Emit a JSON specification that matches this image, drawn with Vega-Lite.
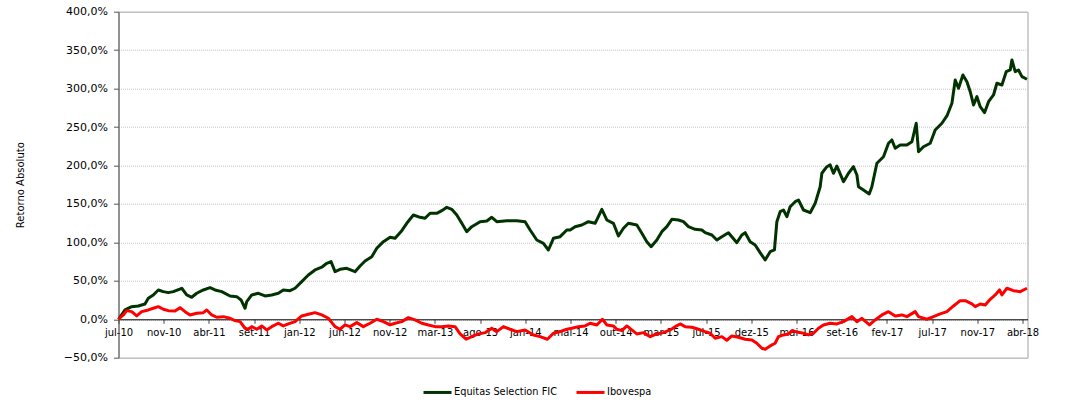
{
  "$schema": "https://vega.github.io/schema/vega-lite/v6.json",
  "autosize": "none",
  "padding": {"left": 118.5, "top": 11.7, "right": 50.5, "bottom": 42.3},
  "width": 909,
  "height": 346,
  "background": "white",
  "config": {
    "font": "DejaVu Sans",
    "view": {"stroke": "#a0a0a0", "strokeWidth": 1}
  },
  "datasets": {
    "equitas": [
      {"t":0,"r":0},{"t":0.144,"r":12.1},{"t":0.292,"r":16.4},{"t":0.438,"r":17.3},{"t":0.586,"r":19.9},{"t":0.659,"r":27.3},{"t":0.77,"r":31.6},{"t":0.881,"r":38.1},{"t":0.991,"r":35.9},{"t":1.102,"r":34.6},{"t":1.213,"r":35.9},{"t":1.399,"r":40.3},{"t":1.509,"r":31.6},{"t":1.62,"r":28.6},{"t":1.73,"r":33.8},{"t":1.877,"r":38.1},{"t":2.025,"r":41.1},{"t":2.135,"r":38.1},{"t":2.284,"r":35.9},{"t":2.467,"r":30.3},{"t":2.616,"r":29.4},{"t":2.711,"r":25.1},{"t":2.799,"r":14.3},{"t":2.837,"r":22.9},{"t":2.948,"r":31.6},{"t":3.094,"r":33.8},{"t":3.242,"r":30.3},{"t":3.39,"r":31.6},{"t":3.536,"r":33.8},{"t":3.647,"r":38.1},{"t":3.795,"r":37.2},{"t":3.906,"r":40.3},{"t":4.054,"r":48.9},{"t":4.2,"r":57.6},{"t":4.348,"r":64.1},{"t":4.497,"r":67.7},{"t":4.607,"r":72.8},{"t":4.702,"r":75.0},{"t":4.791,"r":61.9},{"t":4.901,"r":65.0},{"t":5.05,"r":66.3},{"t":5.233,"r":61.9},{"t":5.344,"r":69.3},{"t":5.455,"r":75.8},{"t":5.603,"r":81.4},{"t":5.714,"r":92.3},{"t":5.86,"r":100.9},{"t":6.008,"r":106.6},{"t":6.119,"r":105.3},{"t":6.267,"r":115.2},{"t":6.377,"r":124.8},{"t":6.524,"r":135.6},{"t":6.672,"r":132.6},{"t":6.782,"r":131.3},{"t":6.893,"r":137.8},{"t":7.041,"r":137.8},{"t":7.152,"r":141.2},{"t":7.263,"r":145.6},{"t":7.373,"r":143.0},{"t":7.484,"r":135.6},{"t":7.595,"r":124.8},{"t":7.705,"r":113.9},{"t":7.816,"r":120.4},{"t":8.0,"r":126.9},{"t":8.148,"r":127.8},{"t":8.258,"r":132.6},{"t":8.369,"r":126.9},{"t":8.59,"r":128.2},{"t":8.812,"r":128.2},{"t":8.995,"r":126.9},{"t":9.106,"r":116.1},{"t":9.254,"r":103.1},{"t":9.4,"r":98.8},{"t":9.511,"r":90.1},{"t":9.622,"r":105.3},{"t":9.77,"r":107.4},{"t":9.918,"r":116.1},{"t":9.991,"r":116.1},{"t":10.102,"r":120.4},{"t":10.25,"r":122.6},{"t":10.396,"r":126.9},{"t":10.544,"r":124.8},{"t":10.693,"r":143.0},{"t":10.803,"r":129.1},{"t":10.949,"r":124.8},{"t":11.06,"r":108.3},{"t":11.171,"r":118.3},{"t":11.281,"r":124.8},{"t":11.467,"r":122.6},{"t":11.578,"r":111.8},{"t":11.688,"r":100.9},{"t":11.784,"r":94.4},{"t":11.91,"r":103.1},{"t":12.02,"r":113.9},{"t":12.131,"r":120.4},{"t":12.242,"r":130.0},{"t":12.388,"r":129.1},{"t":12.498,"r":126.9},{"t":12.609,"r":120.4},{"t":12.757,"r":117.0},{"t":12.905,"r":116.1},{"t":12.979,"r":112.6},{"t":13.127,"r":109.6},{"t":13.237,"r":103.1},{"t":13.348,"r":107.4},{"t":13.494,"r":112.6},{"t":13.68,"r":99.6},{"t":13.79,"r":109.6},{"t":13.864,"r":112.6},{"t":13.974,"r":100.9},{"t":14.085,"r":96.6},{"t":14.195,"r":86.6},{"t":14.306,"r":77.1},{"t":14.417,"r":87.9},{"t":14.512,"r":90.1},{"t":14.565,"r":126.9},{"t":14.638,"r":139.9},{"t":14.711,"r":142.1},{"t":14.786,"r":133.4},{"t":14.859,"r":146.4},{"t":14.97,"r":152.9},{"t":15.043,"r":155.1},{"t":15.154,"r":142.1},{"t":15.302,"r":138.6},{"t":15.413,"r":150.8},{"t":15.523,"r":172.4},{"t":15.561,"r":189.9},{"t":15.671,"r":198.4},{"t":15.745,"r":200.7},{"t":15.817,"r":189.9},{"t":15.893,"r":199.3},{"t":16.039,"r":178.9},{"t":16.15,"r":189.9},{"t":16.26,"r":198.4},{"t":16.336,"r":187.6},{"t":16.371,"r":172.4},{"t":16.481,"r":168.1},{"t":16.608,"r":162.9},{"t":16.667,"r":172.4},{"t":16.778,"r":202.9},{"t":16.924,"r":211.4},{"t":17.035,"r":228.9},{"t":17.11,"r":233.2},{"t":17.183,"r":222.4},{"t":17.294,"r":226.7},{"t":17.442,"r":226.7},{"t":17.553,"r":230.9},{"t":17.648,"r":254.9},{"t":17.699,"r":217.9},{"t":17.809,"r":224.4},{"t":17.958,"r":228.9},{"t":18.068,"r":246.2},{"t":18.216,"r":254.9},{"t":18.327,"r":264.4},{"t":18.438,"r":280.9},{"t":18.511,"r":311.2},{"t":18.584,"r":300.4},{"t":18.681,"r":317.7},{"t":18.77,"r":309.0},{"t":18.843,"r":296.0},{"t":18.916,"r":278.7},{"t":18.991,"r":289.5},{"t":19.064,"r":276.5},{"t":19.159,"r":268.7},{"t":19.248,"r":283.0},{"t":19.358,"r":291.7},{"t":19.433,"r":306.9},{"t":19.544,"r":304.7},{"t":19.639,"r":322.0},{"t":19.728,"r":324.2},{"t":19.765,"r":337.2},{"t":19.838,"r":322.0},{"t":19.911,"r":324.2},{"t":19.987,"r":315.5},{"t":20.098,"r":312.1}
    ],
    "ibovespa": [
      {"t":0,"r":0},{"t":0.106,"r":5.6},{"t":0.181,"r":11.2},{"t":0.292,"r":9.9},{"t":0.403,"r":4.3},{"t":0.513,"r":9.9},{"t":0.659,"r":12.1},{"t":0.77,"r":14.3},{"t":0.881,"r":16.4},{"t":0.991,"r":13.0},{"t":1.102,"r":11.2},{"t":1.25,"r":10.8},{"t":1.361,"r":15.1},{"t":1.472,"r":9.9},{"t":1.582,"r":5.6},{"t":1.73,"r":7.8},{"t":1.877,"r":8.6},{"t":1.952,"r":12.1},{"t":2.062,"r":5.6},{"t":2.173,"r":2.6},{"t":2.319,"r":3.4},{"t":2.467,"r":1.3},{"t":2.578,"r":-1.8},{"t":2.689,"r":-3.1},{"t":2.799,"r":-11.7},{"t":2.872,"r":-13.0},{"t":2.948,"r":-9.6},{"t":3.058,"r":-13.0},{"t":3.169,"r":-8.7},{"t":3.279,"r":-13.9},{"t":3.39,"r":-9.6},{"t":3.536,"r":-5.2},{"t":3.647,"r":-8.7},{"t":3.757,"r":-6.1},{"t":3.906,"r":-3.1},{"t":4.054,"r":4.3},{"t":4.2,"r":6.5},{"t":4.348,"r":8.6},{"t":4.497,"r":5.6},{"t":4.643,"r":1.3},{"t":4.791,"r":-9.6},{"t":4.901,"r":-13.0},{"t":5.012,"r":-7.4},{"t":5.123,"r":-9.6},{"t":5.271,"r":-4.4},{"t":5.417,"r":-9.6},{"t":5.565,"r":-5.2},{"t":5.714,"r":0},{"t":5.86,"r":-3.1},{"t":6.008,"r":-7.4},{"t":6.119,"r":-5.2},{"t":6.267,"r":-3.1},{"t":6.413,"r":2.1},{"t":6.561,"r":-0.9},{"t":6.709,"r":-5.2},{"t":6.855,"r":-7.4},{"t":7.004,"r":-9.6},{"t":7.152,"r":-9.6},{"t":7.298,"r":-8.7},{"t":7.446,"r":-9.6},{"t":7.557,"r":-19.1},{"t":7.69,"r":-26.0},{"t":7.816,"r":-22.6},{"t":7.962,"r":-19.1},{"t":8.11,"r":-17.4},{"t":8.258,"r":-11.7},{"t":8.369,"r":-16.1},{"t":8.515,"r":-9.6},{"t":8.663,"r":-13.0},{"t":8.812,"r":-16.1},{"t":8.995,"r":-13.9},{"t":9.179,"r":-20.4},{"t":9.327,"r":-22.6},{"t":9.489,"r":-26.0},{"t":9.622,"r":-18.2},{"t":9.77,"r":-16.1},{"t":9.918,"r":-13.0},{"t":10.029,"r":-11.7},{"t":10.175,"r":-9.6},{"t":10.323,"r":-8.7},{"t":10.434,"r":-5.2},{"t":10.582,"r":-7.4},{"t":10.706,"r":0},{"t":10.803,"r":-7.4},{"t":10.949,"r":-8.7},{"t":11.024,"r":-13.0},{"t":11.135,"r":-14.8},{"t":11.246,"r":-8.7},{"t":11.356,"r":-13.9},{"t":11.467,"r":-19.1},{"t":11.613,"r":-17.4},{"t":11.761,"r":-22.6},{"t":11.91,"r":-19.1},{"t":12.056,"r":-17.4},{"t":12.204,"r":-13.9},{"t":12.315,"r":-9.6},{"t":12.425,"r":-6.1},{"t":12.536,"r":-9.6},{"t":12.684,"r":-10.4},{"t":12.83,"r":-13.0},{"t":12.979,"r":-16.1},{"t":13.089,"r":-18.2},{"t":13.2,"r":-24.7},{"t":13.348,"r":-22.6},{"t":13.459,"r":-27.3},{"t":13.569,"r":-21.7},{"t":13.715,"r":-23.4},{"t":13.864,"r":-26.0},{"t":14.012,"r":-26.9},{"t":14.122,"r":-31.2},{"t":14.233,"r":-37.7},{"t":14.306,"r":-39.0},{"t":14.417,"r":-34.7},{"t":14.527,"r":-31.2},{"t":14.6,"r":-22.6},{"t":14.711,"r":-20.4},{"t":14.822,"r":-19.1},{"t":14.904,"r":-14.6},{"t":14.975,"r":-16.1},{"t":15.154,"r":-18.2},{"t":15.264,"r":-20.4},{"t":15.375,"r":-18.2},{"t":15.486,"r":-11.7},{"t":15.596,"r":-7.4},{"t":15.745,"r":-5.2},{"t":15.893,"r":-6.1},{"t":16.039,"r":-3.1},{"t":16.225,"r":3.4},{"t":16.336,"r":-3.1},{"t":16.446,"r":1.3},{"t":16.614,"r":-7.4},{"t":16.74,"r":-0.9},{"t":16.889,"r":5.6},{"t":17.035,"r":9.9},{"t":17.183,"r":4.3},{"t":17.331,"r":5.6},{"t":17.442,"r":3.4},{"t":17.625,"r":9.9},{"t":17.699,"r":3.4},{"t":17.884,"r":0},{"t":18.03,"r":3.4},{"t":18.179,"r":6.9},{"t":18.327,"r":9.9},{"t":18.473,"r":17.3},{"t":18.621,"r":24.2},{"t":18.732,"r":24.2},{"t":18.88,"r":19.9},{"t":18.953,"r":16.4},{"t":19.064,"r":19.9},{"t":19.175,"r":18.6},{"t":19.285,"r":26.0},{"t":19.396,"r":31.6},{"t":19.491,"r":38.1},{"t":19.544,"r":31.6},{"t":19.655,"r":40.3},{"t":19.8,"r":37.2},{"t":19.949,"r":35.9},{"t":20.098,"r":40.3}
    ]
  },
  "encoding": {
    "x": {
      "field": "t",
      "type": "quantitative",
      "scale": {"domain": [0, 20.11], "nice": false, "zero": false},
      "axis": {
        "title": null,
        "values": [0,1,2,3,4,5,6,7,8,9,10,11,12,13,14,15,16,17,18,19,20],
        "labelExpr": "['jul-10','nov-10','abr-11','set-11','jan-12','jun-12','nov-12','mar-13','ago-13','jan-14','mai-14','out-14','mar-15','jul-15','dez-15','mai-16','set-16','fev-17','jul-17','nov-17','abr-18'][round(datum.value)]",
        "offset": -38.4,
        "grid": false,
        "domainColor": "#000000",
        "domainWidth": 1,
        "tickColor": "#444444",
        "tickSize": 4,
        "labelFontSize": 10,
        "labelColor": "#000000",
        "labelPadding": 4,
        "labelFlush": false,
        "labelOverlap": false
      }
    },
    "y": {
      "field": "r",
      "type": "quantitative",
      "scale": {"domain": [-50, 400], "nice": false, "zero": false},
      "axis": {
        "title": "Retorno Absoluto",
        "titleFontSize": 10,
        "titleFontWeight": "normal",
        "titleColor": "#000000",
        "titleX": -98,
        "titleY": 173,
        "titleAngle": 270,
        "titleAlign": "center",
        "titleBaseline": "middle",
        "values": [-50, 0, 50, 100, 150, 200, 250, 300, 350, 400],
        "labelExpr": "replace(format(datum.value, '.1f'), '.', ',') + '%'",
        "labelFontSize": 11,
        "labelColor": "#000000",
        "labelPadding": 6,
        "tickSize": 5,
        "tickColor": "#555555",
        "domainColor": "#555555",
        "grid": true,
        "gridColor": "#c4c4c4",
        "gridDash": [1, 1],
        "gridWidth": 1
      }
    }
  },
  "layer": [
    {
      "data": {"name": "equitas"},
      "mark": {"type": "line", "strokeWidth": 3, "strokeJoin": "round"},
      "encoding": {
        "color": {
          "datum": "Equitas Selection FIC",
          "type": "nominal",
          "scale": {"domain": ["Equitas Selection FIC", "Ibovespa"], "range": ["#003300", "#ff0000"]},
          "legend": {
            "title": null,
            "orient": "none",
            "legendX": 303.5,
            "legendY": 365,
            "direction": "horizontal",
            "symbolType": "stroke",
            "symbolSize": 784,
            "symbolStrokeWidth": 3,
            "labelFontSize": 9.8,
            "labelColor": "#000000",
            "labelOffset": 1,
            "columnPadding": 12
          }
        }
      }
    },
    {
      "data": {"name": "ibovespa"},
      "mark": {"type": "line", "strokeWidth": 3, "strokeJoin": "round"},
      "encoding": {
        "color": {"datum": "Ibovespa", "type": "nominal"}
      }
    }
  ]
}
